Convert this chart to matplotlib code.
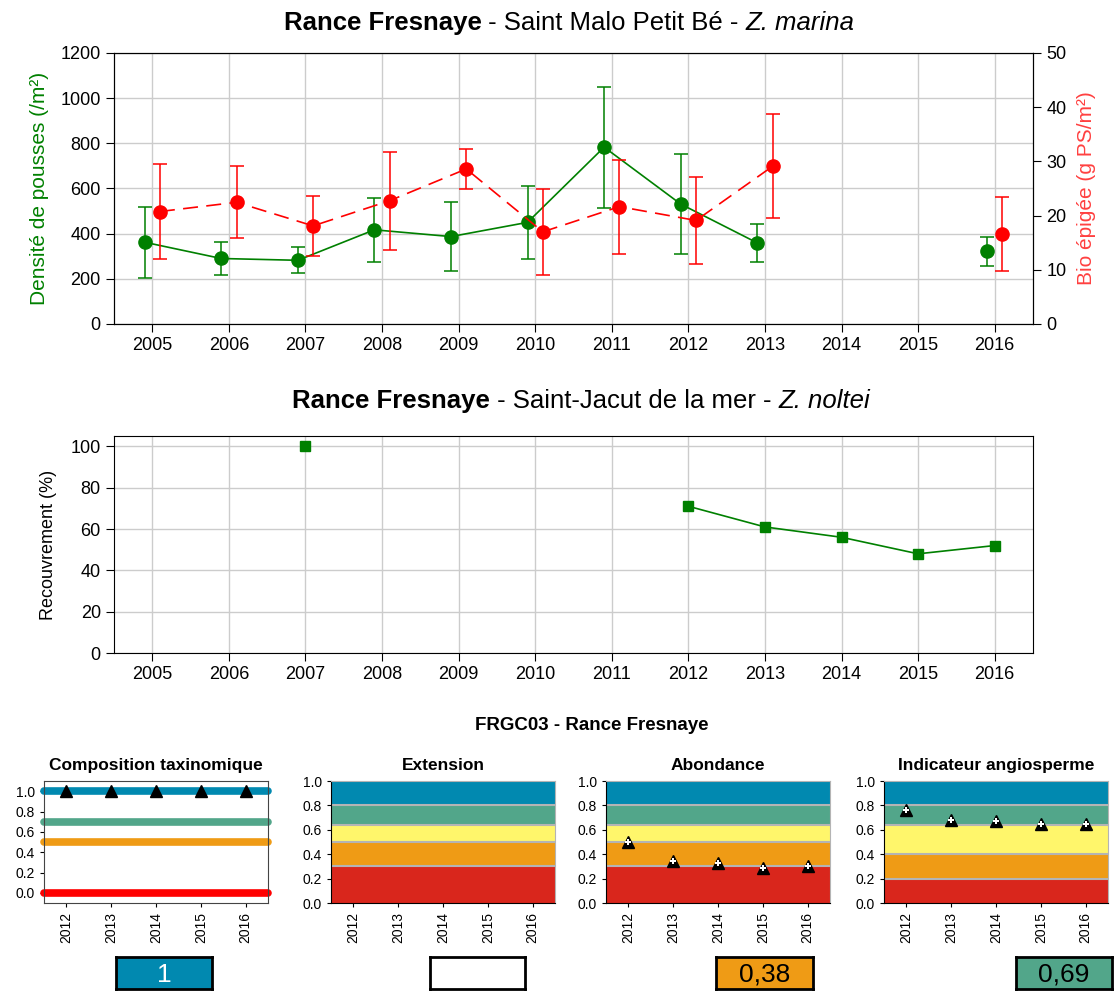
import numpy as np
import matplotlib
matplotlib.use("Agg")
import matplotlib.pyplot as plt

plt.rcParams["font.family"] = "Liberation Sans"

nan = np.nan

# --- Saint Malo Petit Bé (Z. marina) ---
years = np.arange(2005, 2017)
dens = [362, 290, 282, 417, 387, 450, 783, 531, 359, nan, nan, 321]
dens_err = [158, 73, 58, 143, 154, 162, 268, 222, 84, nan, nan, 63]
bio = [20.75, 22.45, 18.1, 22.75, 28.6, 17.0, 21.65, 19.1, 29.1, nan, nan, 16.55]
bio_err = [8.85, 6.65, 5.5, 9.05, 3.7, 7.95, 8.65, 8.1, 9.6, nan, nan, 6.85]

# --- Saint-Jacut de la mer (Z. noltei) ---
recouv = [nan, nan, 100, nan, nan, nan, nan, 71, 61, 56, 48, 52]

# --- FRGC03 indicators ---
ind_years = [2012, 2013, 2014, 2015, 2016]
compo = [1.0, 1.0, 1.0, 1.0, 1.0]
abond = [0.50, 0.345, 0.33, 0.29, 0.30]
angio = [0.76, 0.68, 0.67, 0.65, 0.65]
compo_levels = [1.0, 0.7, 0.5, 0.0]
ext_bounds = [0, 0.3, 0.5, 0.64, 0.8, 1.0]
angio_bounds = [0, 0.2, 0.4, 0.64, 0.8, 1.0]
box_labels = ["1", "", "0,38", "0,69"]

GREEN = "#008000"
RED = "#ff0000"
BLUE = "#0189b0"
TEAL = "#52a68a"
YELLOW = "#fff66b"
ORANGE = "#ef9b15"
DRED = "#d9261c"
band_cols = [DRED, ORANGE, YELLOW, TEAL, BLUE]
compo_cols = [BLUE, TEAL, ORANGE, RED]
box_cols = [BLUE, "white", ORANGE, TEAL]
box_txt = ["white", "black", "black", "black"]

fig = plt.figure(figsize=(11.14, 9.92), dpi=100)


def mixed_title(xc, y, parts, size):
    # draw bold / normal / italic pieces side by side, centred on xc
    r = fig.canvas.get_renderer()
    texts = []
    for s, kw in parts:
        t = fig.text(0, y, s, va="center", fontsize=size, **kw)
        texts.append(t)
    widths = [t.get_window_extent(r).width / fig.bbox.width for t in texts]
    x = xc - sum(widths) / 2
    for t, w in zip(texts, widths):
        t.set_x(x)
        x += w


# ---------- top chart ----------
ax1 = fig.add_axes([0.1023, 0.6734, 0.825, 0.2732])
ax1.errorbar(years - 0.1, dens, yerr=dens_err, color=GREEN, marker="o", ms=9.5,
             lw=1.2, elinewidth=1.1, capsize=5, capthick=1.1, zorder=3)
ax1.set_ylim(0, 1200)
ax1.set_yticks(range(0, 1201, 200))
ax1.set_xlim(2004.5, 2016.5)
ax1.set_xticks(years)
ax1.grid(True, color="#cccccc", lw=1)
ax1.set_axisbelow(True)
ax1.tick_params(direction="out", labelsize=13, length=6)
ax1.set_ylabel("Densité de pousses (/m²)", color=GREEN, fontsize=15, labelpad=8)

ax1b = ax1.twinx()
ax1b.errorbar(years + 0.1, bio, yerr=bio_err, color=RED, marker="o", ms=9.5,
              lw=1.2, ls=(0, (9, 5)), elinewidth=1.1, capsize=5, capthick=1.1)
ax1b.set_ylim(0, 50)
ax1b.set_yticks(range(0, 51, 10))
ax1b.tick_params(direction="out", labelsize=13, length=6)
ax1b.set_ylabel("Bio épigée (g PS/m²)", color="#ff4040", fontsize=15, labelpad=8)

mixed_title(0.511, 0.977, [("Rance Fresnaye", {"fontweight": "bold"}),
                           (" - Saint Malo Petit Bé - ", {}),
                           ("Z. marina", {"fontstyle": "italic"})], 18.5)

# ---------- middle chart ----------
ax2 = fig.add_axes([0.1023, 0.3417, 0.825, 0.2188])
ax2.plot(years, recouv, color=GREEN, marker="s", ms=7, lw=1.2)
ax2.set_ylim(0, 105)
ax2.set_yticks(range(0, 101, 20))
ax2.set_xlim(2004.5, 2016.5)
ax2.set_xticks(years)
ax2.grid(True, color="#cccccc", lw=1)
ax2.set_axisbelow(True)
ax2.tick_params(direction="out", labelsize=13, length=6)
ax2.set_ylabel("Recouvrement (%)", fontsize=13, labelpad=10)

mixed_title(0.5215, 0.5958, [("Rance Fresnaye", {"fontweight": "bold"}),
                             (" - Saint-Jacut de la mer - ", {}),
                             ("Z. noltei", {"fontstyle": "italic"})], 18.5)

# ---------- indicator panels ----------
fig.text(0.531, 0.269, "FRGC03 - Rance Fresnaye", ha="center", va="center",
         fontsize=13.5, fontweight="bold")

lefts = [0.0395, 0.2971, 0.544, 0.7935]
titles = ["Composition taxinomique", "Extension", "Abondance", "Indicateur angiosperme"]
for i, left in enumerate(lefts):
    ax = fig.add_axes([left, 0.0897, 0.2011, 0.123])
    ax.set_xlim(2011.5, 2016.5)
    ax.set_xticks(ind_years)
    ax.set_xticklabels([str(y) for y in ind_years], rotation=90)
    ax.tick_params(labelsize=10, direction="out", length=3)
    ax.set_title(titles[i], fontsize=12.5, fontweight="bold", pad=8)
    if i == 0:
        ax.set_ylim(-0.1, 1.1)
        for lev, c in zip(compo_levels, compo_cols):
            ax.plot([2011.5, 2016.5], [lev, lev], color=c, lw=5.5,
                    solid_capstyle="round", clip_on=False, zorder=2)
        ax.plot(ind_years, compo, ls="none", marker="^", ms=9, color="black", zorder=3)
        for s in ax.spines.values():
            s.set_color("#444444")
    else:
        ax.set_ylim(0, 1)
        bounds = angio_bounds if i == 3 else ext_bounds
        for k in range(5):
            ax.axhspan(bounds[k], bounds[k + 1], color=band_cols[k], lw=0, zorder=0)
        for b in bounds[1:-1]:
            ax.axhline(b, color="#b4b4b4", lw=1.5, zorder=1)
        vals = {2: abond, 3: angio}.get(i)
        if vals is not None:
            ax.plot(ind_years, vals, ls="none", marker="^", ms=9, color="black", zorder=3)
            ax.plot(ind_years, vals, ls="none", marker="P", ms=4, color="white",
                    mew=0, zorder=4)
        for side in ["top", "right"]:
            ax.spines[side].set_color("#b4b4b4")
    ax.set_yticks(np.arange(0, 1.01, 0.2))
    ax.set_yticklabels(["%.1f" % v for v in np.arange(0, 1.01, 0.2)])

# value boxes
box_x = [0.1041, 0.386, 0.6427, 0.912]
box_w = [0.0862, 0.0853, 0.0871, 0.0862]
for x, w, lab, fc, tc in zip(box_x, box_w, box_labels, box_cols, box_txt):
    bx = fig.add_axes([x, 0.003, w, 0.0323])
    bx.set_facecolor(fc)
    bx.set_xticks([])
    bx.set_yticks([])
    for s in bx.spines.values():
        s.set_linewidth(2)
        s.set_color("black")
    bx.text(0.5, 0.45, lab, ha="center", va="center", fontsize=19, color=tc,
            transform=bx.transAxes)

fig.savefig("out.png", dpi=100)
